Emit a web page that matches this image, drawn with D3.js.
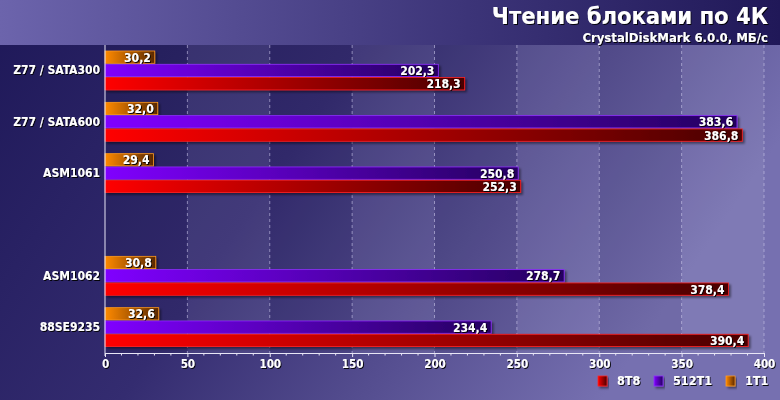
<!DOCTYPE html>
<html><head><meta charset="utf-8">
<script src="https://cdn.jsdelivr.net/npm/d3@7"></script>
<style>body{margin:0;background:#231c5c}svg{display:block}text{font-family:"DejaVu Sans Condensed","DejaVu Sans",Verdana,sans-serif;font-weight:bold;font-stretch:condensed}</style>
</head><body><svg id="c" width="780" height="400"></svg>
<script>
const categories = ["Z77 / SATA300","Z77 / SATA600","ASM1061","","ASM1062","88SE9235"];
const s8T8   = [218.3,386.8,252.3,null,378.4,390.4];
const s512T1 = [202.3,383.6,250.8,null,278.7,234.4];
const s1T1   = [30.2,32.0,29.4,null,30.8,32.6];
const seriesNames = ["8T8","512T1","1T1"];
const xTicks = [0,50,100,150,200,250,300,350,400];

const W=780,H=400, L=105, R=764, T=45, B=353;
const FF='"DejaVu Sans Condensed","DejaVu Sans",sans-serif';
const svg=d3.select("#c");
const defs=svg.append("defs");
function lg(id,stops,x2=1,y2=0){const g=defs.append("linearGradient").attr("id",id).attr("x1",0).attr("y1",0).attr("x2",x2).attr("y2",y2);
 stops.forEach(s=>g.append("stop").attr("offset",s[0]).attr("stop-color",s[1]));}
lg("bg",[[0,"#1e1858"],[0.45,"#342c70"],[1,"#7670b0"]],1,0.35);
lg("hdr",[[0,"#6c64ac"],[0.6,"#3c3478"],[1,"#201858"]]);
lg("gRed",[[0,"#ff0000"],[1,"#4a0000"]]);
lg("gPur",[[0,"#8000ff"],[1,"#240060"]]);
lg("gOra",[[0,"#ff8a00"],[1,"#5a2800"]]);
const f=defs.append("filter").attr("id","sh").attr("x","-10%").attr("y","-30%").attr("width","130%").attr("height","180%");
f.append("feDropShadow").attr("dx",2).attr("dy",2).attr("stdDeviation",1).attr("flood-color","#000").attr("flood-opacity",0.45);
const ft=defs.append("filter").attr("id","tsh");
ft.append("feDropShadow").attr("dx",1).attr("dy",1).attr("stdDeviation",0.4).attr("flood-color","#000").attr("flood-opacity",0.9);

svg.append("rect").attr("width",W).attr("height",H).attr("fill","url(#bg)");
svg.append("rect").attr("width",W).attr("height",T).attr("fill","url(#hdr)");

const x=d3.scaleLinear().domain([0,400]).range([L,R]);
const y=d3.scaleBand().domain(d3.range(categories.length)).range([T,B]);

for(let i=0;i<xTicks.length-1;i++){
  svg.append("rect").attr("x",x(xTicks[i])).attr("y",T).attr("width",x(xTicks[i+1])-x(xTicks[i])).attr("height",B-T)
   .attr("fill",i%2? "#ffffff":"#000000").attr("opacity",i%2?0.07:0.05);
}
svg.append("g").selectAll("line").data(xTicks.slice(1)).join("line")
 .attr("x1",d=>x(d)).attr("x2",d=>x(d)).attr("y1",T).attr("y2",B)
 .attr("stroke","#c8c4e8").attr("stroke-opacity",0.6).attr("stroke-dasharray","3,3");

const bh=13.3, off=[6,19.3,32.6];
const series=[{v:s1T1,g:"gOra",b:"#ff9a20",o:0},{v:s512T1,g:"gPur",b:"#9030ff",o:1},{v:s8T8,g:"gRed",b:"#ff2020",o:2}];
series.forEach(s=>{
  const gg=svg.append("g");
  categories.forEach((c,i)=>{
    if(s.v[i]==null) return;
    const y0=y(i)+off[s.o];
    gg.append("rect").attr("x",x(0)).attr("y",y0).attr("width",x(s.v[i])-x(0)).attr("height",bh-1)
      .attr("fill","url(#"+s.g+")").attr("stroke",s.b).attr("stroke-width",0.8).attr("filter","url(#sh)");
    gg.append("text").attr("x",x(s.v[i])-4).attr("y",y0+bh/2+0.5).attr("dominant-baseline","middle")
      .attr("text-anchor","end").attr("font-size",12).attr("fill","#fff").attr("filter","url(#tsh)")
      .text(d3.format(".1f")(s.v[i]).replace(".",","));
  });
});

svg.append("line").attr("x1",L).attr("x2",L).attr("y1",T).attr("y2",B+3).attr("stroke","#e8e6f6").attr("stroke-width",1);
svg.append("g").selectAll("text").data(categories).join("text")
 .attr("x",L-5).attr("y",(d,i)=>y(i)+y.bandwidth()/2).attr("dominant-baseline","middle").attr("text-anchor","end")
 .attr("font-size",12).attr("fill","#fff").attr("filter","url(#tsh)").text(d=>d);

const ax=svg.append("g").attr("transform",`translate(0,${B})`)
 .call(d3.axisBottom(x).tickValues(xTicks).tickSize(4).tickPadding(3).tickFormat(d3.format("d")));
ax.select(".domain").attr("stroke","#e8e6f6");
ax.selectAll(".tick line").attr("stroke","#e8e6f6");
ax.selectAll("text").attr("fill","#fff").attr("font-size",11.5).attr("font-family",FF).attr("font-weight","bold").attr("filter","url(#tsh)");
svg.append("g").selectAll("line").data(d3.range(0,401,10).filter(d=>d%50)).join("line")
 .attr("x1",d=>x(d)).attr("x2",d=>x(d)).attr("y1",B).attr("y2",B+2.5).attr("stroke","#e8e6f6");

svg.append("text").attr("x",768).attr("y",23.5).attr("text-anchor","end").attr("font-size",23.5).attr("fill","#fff").attr("filter","url(#tsh)").text("Чтение блоками по 4К");
svg.append("text").attr("x",768).attr("y",42).attr("text-anchor","end").attr("font-size",13).attr("fill","#fff").attr("filter","url(#tsh)").text("CrystalDiskMark 6.0.0, МБ/с");

const leg=[{n:seriesNames[0],g:"gRed",b:"#ff2020",x:598},{n:seriesNames[1],g:"gPur",b:"#9030ff",x:654},{n:seriesNames[2],g:"gOra",b:"#ff9a20",x:726}];
leg.forEach(l=>{
  svg.append("rect").attr("x",l.x).attr("y",376).attr("width",9).attr("height",10).attr("fill","url(#"+l.g+")").attr("stroke",l.b).attr("stroke-width",0.8).attr("filter","url(#sh)");
  svg.append("text").attr("x",l.x+19).attr("y",381).attr("dominant-baseline","middle").attr("font-size",12.5).attr("fill","#fff").attr("filter","url(#tsh)").text(l.n);
});
</script></body></html>
